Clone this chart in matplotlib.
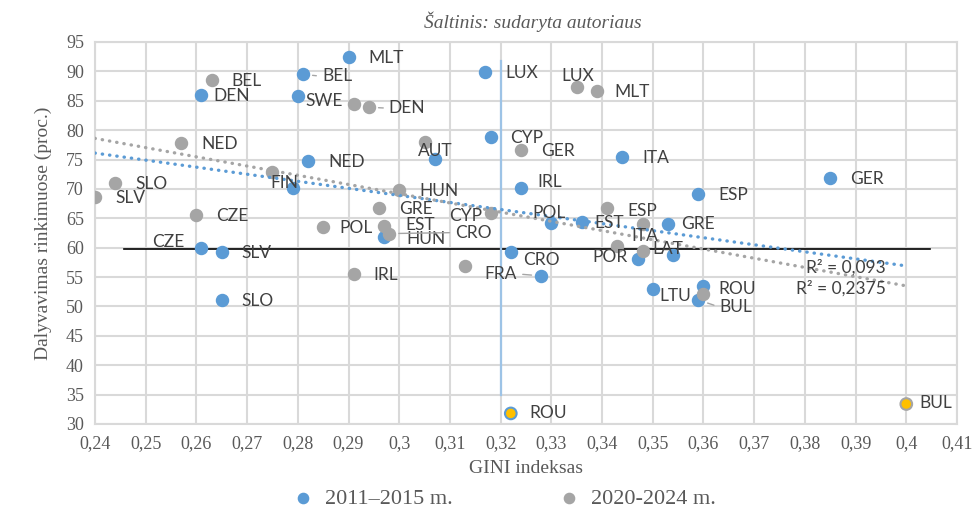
import numpy as np
import matplotlib.pyplot as plt
from matplotlib.ticker import FuncFormatter

# 2011-2015 m. (blue)
blue_labels = ["MLT", "BEL", "DEN", "SWE", "LUX", "CYP", "AUT", "ITA", "NED", "FIN",
               "IRL", "ESP", "GER", "POL", "EST", "GRE", "HUN", "CZE", "SLV", "SLO",
               "CRO", "FRA", "POR", "LAT", "LTU", "ROU", "BUL"]
blue_gini = [0.290, 0.281, 0.261, 0.280, 0.317, 0.318, 0.307, 0.344, 0.282, 0.279,
             0.324, 0.359, 0.385, 0.330, 0.336, 0.353, 0.297, 0.261, 0.265, 0.265,
             0.322, 0.328, 0.347, 0.354, 0.350, 0.360, 0.359]
blue_turnout = [92.4, 89.5, 86.0, 85.8, 89.9, 78.8, 75.1, 75.4, 74.7, 70.2,
                70.2, 69.1, 71.9, 64.2, 64.3, 64.0, 61.8, 60.0, 59.2, 51.1,
                59.2, 55.2, 58.0, 58.8, 53.0, 53.4, 51.1]

# 2020-2024 m. (grey)
gray_labels = ["BEL", "SWE", "DEN", "LUX", "MLT", "NED", "AUT", "GER", "FIN", "SLO",
               "SLV", "HUN", "CZE", "GRE", "POL", "EST", "CRO", "CYP", "ESP", "ITA",
               "POR", "LAT", "IRL", "FRA", "ROU"]
gray_gini = [0.263, 0.291, 0.294, 0.335, 0.339, 0.257, 0.305, 0.324, 0.275, 0.244,
             0.240, 0.300, 0.260, 0.296, 0.285, 0.297, 0.298, 0.318, 0.341, 0.348,
             0.343, 0.348, 0.291, 0.313, 0.360]
gray_turnout = [88.6, 84.5, 83.9, 87.4, 86.7, 77.8, 77.9, 76.6, 72.9, 71.0,
                68.6, 69.8, 65.5, 66.7, 63.5, 63.7, 62.4, 65.9, 66.7, 64.1,
                60.3, 59.4, 55.5, 56.8, 52.2]

# highlighted points (ROU 2011-2015, BUL 2020-2024)
hl_labels = ["ROU", "BUL"]
hl_gini = [0.322, 0.400]
hl_turnout = [31.8, 33.4]

# trend lines
trend_x = [0.24, 0.40]
trend_blue = [76.1, 56.9]
trend_gray = [78.6, 53.5]
r2_blue = "R² = 0,093"
r2_gray = "R² = 0,2375"

# average lines
avg_turnout = 59.7
avg_turnout_x = [0.2457, 0.4047]
avg_gini = 0.32
avg_gini_y = [35.0, 91.7]

BLUE = "#5b9bd5"
GRAY = "#a5a5a5"
ORANGE = "#ffc000"
TXT = "#404040"

# label offsets in pixels (dx, dy, ha); default is right of the point
DEF = (20, -1, "left")
blue_off = {"DEN": (12, -1, "left"), "SWE": (8, -5, "left"), "AUT": (1, 8, "center"),
            "FIN": (-8, 5, "center"), "IRL": (16, 6, "left"), "POL": (-2, 10, "center"),
            "EST": (13, -1, "left"), "GRE": (13, 0, "left"), "HUN": (22, -2, "left"),
            "CZE": (-17, 6, "right"), "CRO": (12, -8, "left"), "FRA": (-24, 2, "right"),
            "POR": (-10, 2, "right"), "LTU": (7, -7, "left"), "ROU": (15, -3, "left"),
            "BUL": (21, -7, "left"), "BEL": (19, -2, "left")}
blue_hidden = {"LAT"}
gray_off = {"POL": (16, -1, "left"), "CRO": (66, 1, "left"), "CYP": (-8, -3, "right"),
            "LUX": (1, 11, "center"), "MLT": (17, -1, "left"), "ITA": (2, -12, "center"),
            "LAT": (10, 2, "left"), "ESP": (20, -3, "left"), "EST": (21, 1, "left")}
gray_hidden = {"SWE", "AUT", "FIN", "FRA", "ROU", "POR"}
hl_off = {"ROU": (19, 0, "left"), "BUL": (13, 1, "left")}
leaders = {("b", "BEL"), ("b", "FRA"), ("b", "BUL"), ("g", "CRO"), ("g", "DEN")}

fig = plt.figure(figsize=(9.73, 5.11), dpi=100)
ax = fig.add_axes([95 / 973, 1 - 424 / 511, 862 / 973, 382 / 511])

ax.set_xlim(0.24, 0.41)
ax.set_ylim(30, 95)
ax.set_xticks(np.round(np.arange(0.24, 0.4101, 0.01), 2))
ax.set_yticks(np.arange(30, 96, 5))
ax.xaxis.set_major_formatter(FuncFormatter(lambda v, p: f"{round(v, 2):g}".replace(".", ",")))
ax.grid(True, color="#d9d9d9", lw=1.5, zorder=0)
ax.set_axisbelow(True)
for s in ax.spines.values():
    s.set_color("#d9d9d9")
    s.set_linewidth(1.5)
ax.tick_params(length=0, labelsize=13, labelcolor="#595959", pad=8)
for lab in ax.get_xticklabels() + ax.get_yticklabels():
    lab.set_family("Liberation Serif")

ax.set_xlabel("GINI indeksas", family="Liberation Serif", fontsize=14, color="#595959", labelpad=6)
ax.set_ylabel("Dalyvavimas rinkimuose (proc.)", family="Liberation Serif", fontsize=14,
              color="#595959", labelpad=10)
fig.text(0.548, 0.957, "Šaltinis: sudaryta autoriaus", family="Liberation Serif",
         style="italic", fontsize=14, color="#595959", ha="center", va="center")

# reference lines
ax.plot(avg_turnout_x, [avg_turnout, avg_turnout], color="black", lw=1.2, zorder=2)
ax.plot([avg_gini, avg_gini], avg_gini_y, color="#9dc3e6", lw=1.6, zorder=2)

# points
ax.scatter(blue_gini, blue_turnout, s=75, color=BLUE, zorder=3, label="2011–2015 m.")
ax.scatter(gray_gini, gray_turnout, s=75, color=GRAY, zorder=3, label="2020-2024 m.")
ax.scatter(hl_gini, hl_turnout, s=70, color=ORANGE, edgecolors=[BLUE, GRAY], linewidths=1.5, zorder=3)

# trend lines
ax.plot(trend_x, trend_blue, color=BLUE, lw=2.4, ls=(0, (0.1, 2.1)), dash_capstyle="round", zorder=4)
ax.plot(trend_x, trend_gray, color=GRAY, lw=2.4, ls=(0, (0.1, 2.1)), dash_capstyle="round", zorder=4)
ax.text(0.396, 56.7, r2_blue, fontsize=12.5, color=TXT, family="Lato", ha="right", va="center", zorder=5)
ax.text(0.396, 53.1, r2_gray, fontsize=12.5, color=TXT, family="Lato", ha="right", va="center", zorder=5)


def put_labels(key, labels, xs, ys, offs, hidden):
    for lab, x, y in zip(labels, xs, ys):
        if lab in hidden:
            continue
        dx, dy, ha = offs.get(lab, DEF)
        arrow = None
        if (key, lab) in leaders:
            arrow = dict(arrowstyle="-", color=GRAY, lw=1, shrinkA=2, shrinkB=7,
                         relpos=(0, 0.5) if ha == "left" else (1, 0.5))
        ax.annotate(lab, (x, y), xytext=(dx, dy), textcoords="offset pixels",
                    ha=ha, va="center", fontsize=12.5, color=TXT, family="Lato",
                    arrowprops=arrow, zorder=5)


put_labels("b", blue_labels, blue_gini, blue_turnout, blue_off, blue_hidden)
put_labels("g", gray_labels, gray_gini, gray_turnout, gray_off, gray_hidden)
put_labels("h", hl_labels, hl_gini, hl_turnout, hl_off, set())

fig.legend(loc="lower center", bbox_to_anchor=(0.518, -0.035), ncol=2, frameon=False,
           prop={"family": "Liberation Serif", "size": 16}, labelcolor="#595959",
           markerscale=0.85, columnspacing=4.7, handlelength=1, handletextpad=0.5)

fig.savefig("out.png", dpi=100)
